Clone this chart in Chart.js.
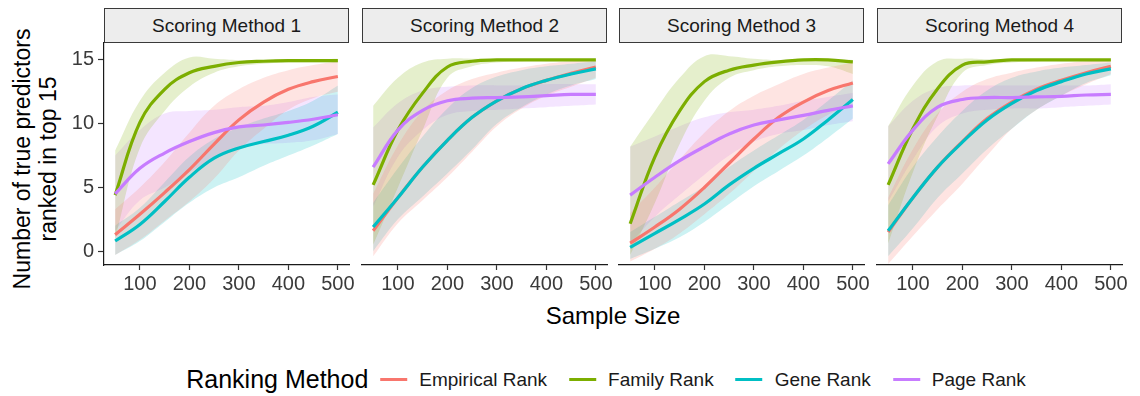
<!DOCTYPE html>
<html>
<head>
<meta charset="utf-8">
<title>True predictors ranked in top 15 by sample size</title>
<script src="https://cdn.jsdelivr.net/npm/chart.js@4.4.1/dist/chart.umd.min.js"></script>
<style>
  html, body { margin: 0; padding: 0; background: #fff; width: 1140px; height: 396px; overflow: hidden;
    font-family: "Liberation Sans", Arial, Helvetica, sans-serif; }
  canvas.facet { position: absolute; }
  .strip { position: absolute; top: 8px; height: 35px; box-sizing: border-box; border: 1px solid #3a3a3a;
    background: #ededed; color: #1a1a1a; font-size: 19px; display: flex; align-items: center; justify-content: center; }
  .ytitle { position: absolute; width: 320px; left: -125px; top: 133px; text-align: center; font-size: 23px;
    line-height: 26px; color: #000; transform: rotate(-90deg); transform-origin: 50% 50%; }
  .xtitle { position: absolute; top: 302px; left: 104px; width: 1018px; text-align: center; font-size: 24px; color: #000; }
  .legend { position: absolute; top: 365px; left: 606px; transform: translateX(-50%); display: flex; align-items: center;
    white-space: nowrap; color: #000; }
  .legend .ltitle { font-size: 25px; margin-right: 12px; }
  .legend .key { width: 27px; height: 3px; margin-right: 12px; }
  .legend .item { font-size: 19px; margin-right: 22px; color: #1a1a1a; }
  .legend .item:last-child { margin-right: 0; }
</style>
</head>
<body>
<div class="ytitle">Number of true predictors<br>ranked in top 15</div>
<div class="xtitle">Sample Size</div>
<div class="legend" id="legend"></div>

<script>
// ---- data -------------------------------------------------------------
const sampleSizes = [50, 100, 150, 200, 250, 300, 350, 400, 450, 500];
const facetTitles = ['Scoring Method 1', 'Scoring Method 2', 'Scoring Method 3', 'Scoring Method 4'];
const rankingMethods = ['Empirical Rank', 'Family Rank', 'Gene Rank', 'Page Rank'];
const methodColors = ['#F8766D', '#7CAE00', '#00BFC4', '#C77CFF'];
const yTickValues = [0, 5, 10, 15];
const xTickValues = [100, 200, 300, 400, 500];

// Scoring Method 1: smoothed fit, lower and upper confidence bounds
const s1Empirical   = [1.3, 2.9, 4.6, 6.4, 8.4, 10.3, 11.7, 12.7, 13.3, 13.7];
const s1EmpiricalLo = [-0.3, 0.9, 2.4, 3.9, 5.7, 7.9, 9.6, 11.1, 12.0, 12.5];
const s1EmpiricalHi = [3.3, 5.0, 7.0, 9.3, 11.4, 12.7, 13.6, 14.2, 14.6, 14.9];
const s1Family      = [4.4, 10.1, 12.7, 14.0, 14.5, 14.8, 14.9, 14.95, 14.95, 14.95];
const s1FamilyLo    = [1.0, 8.1, 11.0, 12.9, 14.0, 14.5, 14.7, 14.8, 14.8, 14.8];
const s1FamilyHi    = [7.9, 11.8, 14.0, 15.2, 15.1, 15.0, 15.0, 15.05, 15.05, 15.1];
const s1Gene        = [0.8, 2.1, 3.9, 5.8, 7.3, 8.1, 8.6, 9.1, 9.8, 10.9];
const s1GeneLo      = [-0.3, 0.8, 2.3, 3.8, 5.0, 5.8, 6.7, 7.5, 8.3, 9.2];
const s1GeneHi      = [2.0, 3.4, 5.4, 7.4, 8.8, 9.7, 10.4, 11.0, 11.8, 13.0];
const s1Page        = [4.5, 6.5, 7.7, 8.6, 9.3, 9.75, 9.9, 10.1, 10.35, 10.7];
const s1PageLo      = [1.6, 4.0, 5.0, 6.2, 7.3, 8.2, 8.4, 8.5, 8.7, 9.2];
const s1PageHi      = [7.5, 9.5, 10.8, 11.0, 11.1, 11.3, 11.4, 11.7, 12.1, 12.3];

// Scoring Method 2
const s2Empirical   = [1.6, 4.2, 6.6, 8.7, 10.5, 11.8, 12.75, 13.4, 13.95, 14.45];
const s2EmpiricalLo = [-0.4, 2.2, 4.0, 5.8, 7.8, 9.8, 11.2, 12.2, 12.9, 13.6];
const s2EmpiricalHi = [4.5, 8.3, 11.0, 12.6, 13.5, 14.0, 14.4, 14.7, 14.9, 15.0];
const s2Family      = [5.2, 9.5, 12.4, 14.45, 14.9, 15.0, 15.0, 15.0, 15.0, 15.0];
const s2FamilyLo    = [0.5, 5.0, 9.5, 13.6, 14.5, 14.8, 14.9, 14.9, 14.9, 14.9];
const s2FamilyHi    = [11.4, 13.6, 14.8, 15.1, 15.1, 15.05, 15.05, 15.05, 15.05, 15.05];
const s2Gene        = [1.9, 4.2, 6.6, 8.7, 10.5, 11.8, 12.75, 13.4, 13.9, 14.3];
const s2GeneLo      = [0.0, 2.5, 4.3, 6.1, 8.0, 10.0, 11.3, 12.3, 13.0, 13.5];
const s2GeneHi      = [3.8, 6.5, 9.0, 11.2, 12.8, 13.7, 14.2, 14.5, 14.7, 14.9];
const s2Page        = [6.6, 9.5, 11.05, 11.8, 12.0, 12.05, 12.1, 12.2, 12.3, 12.3];
const s2PageLo      = [3.5, 7.4, 9.5, 10.7, 11.0, 11.1, 11.2, 11.3, 11.4, 11.5];
const s2PageHi      = [9.7, 11.6, 12.6, 12.9, 13.0, 13.0, 13.0, 13.1, 13.1, 13.1];

// Scoring Method 3
const s3Empirical   = [0.63, 1.9, 3.3, 5.0, 6.9, 8.8, 10.5, 11.7, 12.6, 13.2];
const s3EmpiricalLo = [-0.8, 0.2, 1.4, 2.9, 4.5, 6.3, 8.0, 9.5, 10.7, 11.6];
const s3EmpiricalHi = [3.0, 5.0, 7.2, 9.3, 11.0, 12.2, 13.1, 13.9, 14.4, 14.8];
const s3Family      = [2.15, 7.4, 11.0, 13.3, 14.2, 14.6, 14.85, 15.0, 15.0, 14.85];
const s3FamilyLo    = [-0.3, 3.8, 8.4, 11.8, 13.6, 14.2, 14.5, 14.6, 14.5, 13.9];
const s3FamilyHi    = [8.2, 11.0, 13.6, 15.3, 15.3, 15.1, 15.0, 15.05, 15.05, 15.0];
const s3Gene        = [0.3, 1.4, 2.5, 3.7, 5.2, 6.5, 7.65, 8.8, 10.3, 11.9];
const s3GeneLo      = [-0.6, 0.2, 1.1, 2.3, 3.7, 5.1, 6.3, 7.5, 8.9, 10.4];
const s3GeneHi      = [1.5, 2.7, 3.9, 5.1, 6.6, 7.9, 9.1, 10.3, 11.8, 13.4];
const s3Page        = [4.4, 5.8, 7.1, 8.2, 9.2, 9.9, 10.3, 10.65, 11.05, 11.4];
const s3PageLo      = [0.6, 2.7, 4.4, 6.0, 7.5, 8.6, 9.2, 9.5, 9.9, 10.2];
const s3PageHi      = [8.2, 9.0, 9.8, 10.5, 10.9, 11.1, 11.4, 11.8, 12.1, 12.4];

// Scoring Method 4
const s4Empirical   = [1.5, 4.2, 6.6, 8.6, 10.4, 11.7, 12.7, 13.4, 14.0, 14.5];
const s4EmpiricalLo = [-1.0, 1.2, 3.3, 5.3, 7.5, 9.6, 11.1, 12.2, 13.1, 13.9];
const s4EmpiricalHi = [4.2, 8.0, 10.8, 12.5, 13.5, 14.0, 14.4, 14.7, 14.9, 15.0];
const s4Family      = [5.2, 9.6, 12.75, 14.6, 14.85, 15.0, 15.0, 15.0, 15.0, 15.0];
const s4FamilyLo    = [0.6, 6.2, 10.6, 14.0, 14.6, 14.8, 14.9, 14.9, 14.9, 14.9];
const s4FamilyHi    = [9.8, 13.0, 14.9, 15.1, 15.05, 15.05, 15.05, 15.05, 15.05, 15.05];
const s4Gene        = [1.6, 4.2, 6.6, 8.55, 10.3, 11.6, 12.6, 13.3, 13.9, 14.3];
const s4GeneLo      = [-0.4, 1.8, 4.2, 6.1, 8.0, 9.6, 11.1, 12.2, 13.2, 13.8];
const s4GeneHi      = [3.6, 6.6, 9.0, 11.0, 12.6, 13.6, 14.1, 14.4, 14.6, 14.8];
const s4Page        = [6.85, 9.5, 11.3, 11.9, 12.05, 12.05, 12.1, 12.15, 12.25, 12.3];
const s4PageLo      = [3.9, 7.2, 9.8, 10.8, 11.1, 11.2, 11.2, 11.3, 11.4, 11.5];
const s4PageHi      = [9.8, 11.8, 12.8, 13.0, 13.0, 13.0, 13.0, 13.0, 13.0, 13.1];

// fit / lower / upper per facet, in the order of rankingMethods
const facetSeries = [
  [[s1Empirical, s1EmpiricalLo, s1EmpiricalHi], [s1Family, s1FamilyLo, s1FamilyHi],
   [s1Gene, s1GeneLo, s1GeneHi], [s1Page, s1PageLo, s1PageHi]],
  [[s2Empirical, s2EmpiricalLo, s2EmpiricalHi], [s2Family, s2FamilyLo, s2FamilyHi],
   [s2Gene, s2GeneLo, s2GeneHi], [s2Page, s2PageLo, s2PageHi]],
  [[s3Empirical, s3EmpiricalLo, s3EmpiricalHi], [s3Family, s3FamilyLo, s3FamilyHi],
   [s3Gene, s3GeneLo, s3GeneHi], [s3Page, s3PageLo, s3PageHi]],
  [[s4Empirical, s4EmpiricalLo, s4EmpiricalHi], [s4Family, s4FamilyLo, s4FamilyHi],
   [s4Gene, s4GeneLo, s4GeneHi], [s4Page, s4PageLo, s4PageHi]]
];

// ---- layout -----------------------------------------------------------
const FONT = '"Liberation Sans", Arial, Helvetica, sans-serif';
const panelLefts = [104, 362, 619, 877];
const panelWidth = 245;
const canvasTop = 40;
const canvasHeight = 262;
const yAxisWidth = 60;     // room for tick labels left of each panel
const xAxisHeight = 37;    // room for tick labels under each panel
const padRight = 24;
const CURVE_TENSION = 0.4;

Chart.defaults.font.family = FONT;

function toPoints(values) {
  return sampleSizes.map((x, i) => ({ x: x, y: values[i] }));
}
function withAlpha(hex, a) {
  const n = parseInt(hex.slice(1), 16);
  return `rgba(${(n >> 16) & 255}, ${(n >> 8) & 255}, ${n & 255}, ${a})`;
}

facetTitles.forEach((title, f) => {
  const strip = document.createElement('div');
  strip.className = 'strip';
  strip.style.left = panelLefts[f] + 'px';
  strip.style.width = panelWidth + 'px';
  strip.textContent = title;
  document.body.appendChild(strip);

  const canvas = document.createElement('canvas');
  canvas.className = 'facet';
  canvas.width = yAxisWidth + panelWidth + padRight;
  canvas.height = canvasHeight;
  canvas.style.left = (panelLefts[f] - yAxisWidth) + 'px';
  canvas.style.top = canvasTop + 'px';
  document.body.appendChild(canvas);

  const datasets = [];
  // confidence ribbons (drawn beneath the fitted lines)
  rankingMethods.forEach((name, m) => {
    const [, lo, hi] = facetSeries[f][m];
    datasets.push({
      label: name + ' lower', data: toPoints(lo), borderWidth: 0, pointRadius: 0,
      fill: false, tension: CURVE_TENSION, order: 20 + m
    });
    datasets.push({
      label: name + ' upper', data: toPoints(hi), borderWidth: 0, pointRadius: 0,
      fill: '-1', backgroundColor: withAlpha(methodColors[m], 0.2),
      tension: CURVE_TENSION, order: 20 + m
    });
  });
  // fitted lines
  rankingMethods.forEach((name, m) => {
    const [fit] = facetSeries[f][m];
    datasets.push({
      label: name, data: toPoints(fit), borderColor: methodColors[m], borderWidth: 3.2,
      pointRadius: 0, fill: false, tension: CURVE_TENSION, order: 8 - m,
      borderCapStyle: 'butt', borderJoinStyle: 'round'
    });
  });

  const firstPanel = f === 0;
  new Chart(canvas, {
    type: 'line',
    data: { datasets },
    options: {
      responsive: false,
      animation: false,
      events: [],
      layout: { padding: { left: 0, right: padRight, top: 43 - canvasTop, bottom: 0 } },
      plugins: { legend: { display: false }, tooltip: { enabled: false } },
      scales: {
        x: {
          type: 'linear', min: 27.5, max: 522.5,
          afterBuildTicks: s => { s.ticks = xTickValues.map(v => ({ value: v })); },
          afterFit: s => { s.height = xAxisHeight; s.paddingLeft = 0; s.paddingRight = 0; },
          border: { display: true, color: '#1a1a1a', width: 1.2 },
          grid: { display: true, drawOnChartArea: false, drawTicks: true, tickLength: 5, tickColor: '#333', tickWidth: 1.2 },
          ticks: { color: '#3a3a3a', font: { size: 20, family: FONT }, padding: 2, maxRotation: 0, autoSkip: false }
        },
        y: {
          type: 'linear', min: -1.08, max: 16.33,
          afterBuildTicks: s => { s.ticks = yTickValues.map(v => ({ value: v })); },
          afterFit: s => { s.width = yAxisWidth; s.paddingTop = 0; s.paddingBottom = 0; },
          border: { display: firstPanel, color: '#1a1a1a', width: 1.2 },
          grid: { display: firstPanel, drawOnChartArea: false, drawTicks: true, tickLength: 6, tickColor: '#333', tickWidth: 1.2 },
          ticks: { display: firstPanel, color: '#3a3a3a', font: { size: 20, family: FONT }, padding: 4 }
        }
      }
    }
  });
});

// legend
const legend = document.getElementById('legend');
const lt = document.createElement('span');
lt.className = 'ltitle';
lt.textContent = 'Ranking Method';
legend.appendChild(lt);
rankingMethods.forEach((name, m) => {
  const key = document.createElement('span');
  key.className = 'key';
  key.style.background = methodColors[m];
  legend.appendChild(key);
  const item = document.createElement('span');
  item.className = 'item';
  item.textContent = name;
  legend.appendChild(item);
});
</script>
</body>
</html>
